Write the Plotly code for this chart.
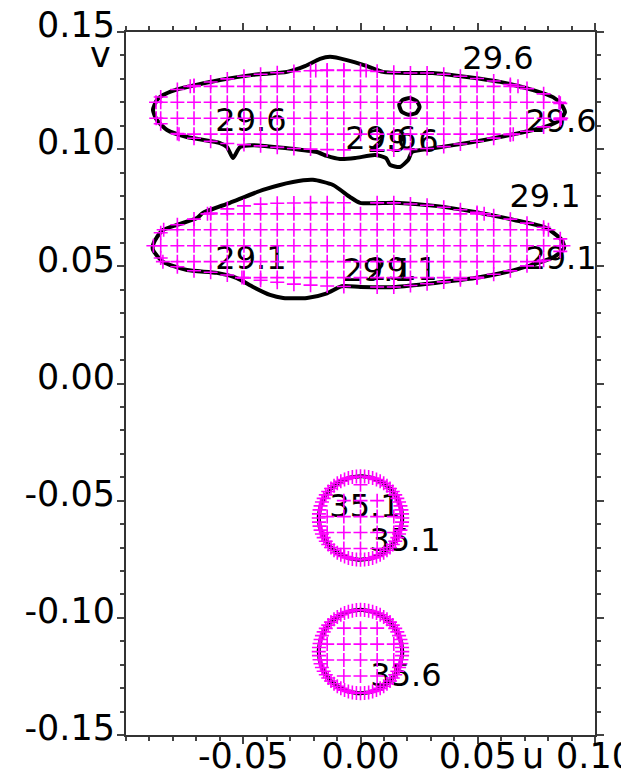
import numpy as np
import plotly.graph_objects as go

# ---------------- contour outlines (u, v) ----------------
# level 29.6, outer outline
c296_u = [-0.0885, -0.0868, -0.0842, -0.0791, -0.0740, -0.0599, -0.0458, -0.0313, -0.0237, -0.0173,
          -0.0130, -0.0058, 0.0028, 0.0096, 0.0211, 0.0309, 0.0454, 0.0595, 0.0736, 0.0821,
          0.0855, 0.0872,
          0.0851, 0.0808, 0.0736, 0.0595, 0.0454, 0.0309, 0.0220, 0.0203, 0.0168, 0.0126,
          0.0109, 0.0062, -0.0023, -0.0087, -0.0143, -0.0186, -0.0313, -0.0458, -0.0514, -0.0544,
          -0.0569, -0.0599, -0.0740, -0.0825, -0.0868, -0.0885]
c296_v = [0.1167, 0.1210, 0.1231, 0.1252, 0.1265, 0.1295, 0.1317, 0.1330, 0.1354, 0.1385,
          0.1394, 0.1380, 0.1354, 0.1330, 0.1325, 0.1325, 0.1308, 0.1287, 0.1252, 0.1222,
          0.1193, 0.1158,
          0.1124, 0.1103, 0.1082, 0.1052, 0.1026, 0.1004, 0.0988, 0.0954, 0.0924, 0.0933,
          0.0962, 0.0975, 0.0962, 0.0958, 0.0971, 0.0988, 0.1004, 0.1017, 0.1009, 0.0962,
          0.1009, 0.1026, 0.1052, 0.1082, 0.1124, 0.1167]

# level 29.6, small closed ring inside the band
o296_u = [0.0165, 0.0180, 0.0210, 0.0240, 0.0252, 0.0238, 0.0205, 0.0175, 0.0165]
o296_v = [0.1190, 0.1210, 0.1218, 0.1205, 0.1180, 0.1155, 0.1147, 0.1160, 0.1190]

# level 29.1 outline
c291_u = [-0.0885, -0.0868, -0.0842, -0.0783, -0.0697, -0.0672, -0.0557, -0.0416, -0.0288, -0.0203,
          -0.0117, -0.0045, -0.0002, 0.0151, 0.0318, 0.0488, 0.0655, 0.0791, 0.0859, 0.0868,
          0.0825, 0.0655, 0.0488, 0.0318, 0.0151, 0.0000, -0.0080, -0.0143, -0.0228, -0.0330,
          -0.0386, -0.0458, -0.0527, -0.0612, -0.0740, -0.0842, -0.0885, -0.0885]
c291_v = [0.0591, 0.0625, 0.0655, 0.0677, 0.0706, 0.0728, 0.0771, 0.0826, 0.0860, 0.0869,
          0.0847, 0.0796, 0.0771, 0.0771, 0.0758, 0.0732, 0.0698, 0.0664, 0.0612, 0.0578,
          0.0540, 0.0484, 0.0450, 0.0429, 0.0412, 0.0412, 0.0415, 0.0385, 0.0365, 0.0365,
          0.0378, 0.0412, 0.0450, 0.0472, 0.0484, 0.0519, 0.0570, 0.0591]

# sampled regions (envelopes of the '+' samples)
r296_u = [-0.0885, -0.0868, -0.0842, -0.0791, -0.0740, -0.0599, -0.0458, -0.0313, -0.0150, 0.0000,
          0.0096, 0.0211, 0.0309, 0.0454, 0.0595, 0.0736, 0.0821, 0.0855, 0.0872,
          0.0851, 0.0808, 0.0736, 0.0595, 0.0454, 0.0309, 0.0150, 0.0000, -0.0150, -0.0313,
          -0.0458, -0.0599, -0.0740, -0.0825, -0.0868]
r296_v = [0.1167, 0.1210, 0.1231, 0.1252, 0.1265, 0.1295, 0.1317, 0.1330, 0.1338, 0.1338,
          0.1330, 0.1325, 0.1325, 0.1308, 0.1287, 0.1252, 0.1222, 0.1193, 0.1158,
          0.1124, 0.1103, 0.1082, 0.1052, 0.1026, 0.1004, 0.0996, 0.0996, 0.0998, 0.1004,
          0.1017, 0.1026, 0.1052, 0.1082, 0.1124]

r291_u = [-0.0885, -0.0868, -0.0842, -0.0783, -0.0697, -0.0672, -0.0590, -0.0527, -0.0400, -0.0200,
          0.0000, 0.0151, 0.0318, 0.0488, 0.0655, 0.0791, 0.0859, 0.0868,
          0.0825, 0.0655, 0.0488, 0.0318, 0.0151, 0.0000, -0.0150, -0.0300, -0.0420, -0.0527,
          -0.0612, -0.0740, -0.0842]
r291_v = [0.0591, 0.0625, 0.0655, 0.0677, 0.0706, 0.0719, 0.0740, 0.0755, 0.0768, 0.0772,
          0.0771, 0.0771, 0.0758, 0.0732, 0.0698, 0.0664, 0.0612, 0.0578,
          0.0540, 0.0484, 0.0450, 0.0429, 0.0412, 0.0412, 0.0416, 0.0425, 0.0440, 0.0455,
          0.0472, 0.0484, 0.0519]

# circular levels
ring_level = [35.1, 35.6]
ring_u0 = [0.0000, 0.0000]
ring_v0 = [-0.0574, -0.1144]
ring_r = [0.0178, 0.0178]

# sample grid
grid_u0, grid_du = 0.0, 0.0071
grid_v0, grid_dv = -0.1044, 0.0068

# contour labels
label_text = ["29.6", "29.6", "29.6", "29.6", "29.6",
              "29.1", "29.1", "29.1", "29.1", "29.1",
              "35.1", "35.1", "35.6"]
label_u = [0.0586, -0.0467, 0.0855, 0.0087, 0.0181,
           0.0787, -0.0467, 0.0855, 0.0075, 0.0177,
           0.0019, 0.0190, 0.0194]
label_v = [0.1376, 0.1112, 0.1108, 0.1035, 0.1023,
           0.0786, 0.0523, 0.0523, 0.0472, 0.0476,
           -0.0536, -0.0681, -0.1257]

# axis ticks
x_ticks = [-0.05, 0.0, 0.05, 0.10]
x_ticktext = ["-0.05", "0.00", "0.05", "0.10"]
y_ticks = [-0.15, -0.10, -0.05, 0.0, 0.05, 0.10, 0.15]
y_ticktext = ["-0.15", "-0.10", "-0.05", "0.00", "0.05", "0.10", "0.15"]

MAGENTA = "#ff00ff"
FONT = "DejaVu Sans"


def inside(pu, pv, poly_u, poly_v):
    """Ray-casting point-in-polygon test."""
    pu = np.asarray(pu); pv = np.asarray(pv)
    xu = np.asarray(poly_u); yv = np.asarray(poly_v)
    res = np.zeros(pu.shape, dtype=bool)
    n = len(xu)
    for i in range(n):
        x1, y1 = xu[i], yv[i]
        x2, y2 = xu[(i + 1) % n], yv[(i + 1) % n]
        cond = (y1 > pv) != (y2 > pv)
        with np.errstate(divide="ignore", invalid="ignore"):
            xc = x1 + (pv - y1) * (x2 - x1) / (y2 - y1)
        res ^= cond & (pu < xc)
    return res


def edge_hits(poly_u, poly_v, gu, gv):
    """Points where the region edge crosses the sample grid lines."""
    hu, hv = [], []
    n = len(poly_u)
    for i in range(n):
        x1, y1 = poly_u[i], poly_v[i]
        x2, y2 = poly_u[(i + 1) % n], poly_v[(i + 1) % n]
        for g in gu:
            if (x1 - g) * (x2 - g) < 0:
                t = (g - x1) / (x2 - x1)
                hu.append(g); hv.append(y1 + t * (y2 - y1))
        for g in gv:
            if (y1 - g) * (y2 - g) < 0:
                t = (g - y1) / (y2 - y1)
                hu.append(x1 + t * (x2 - x1)); hv.append(g)
    return hu, hv


gu = grid_u0 + grid_du * np.arange(-15, 16)
gv = grid_v0 + grid_dv * np.arange(-7, 40)
GU, GV = np.meshgrid(gu, gv)
GU = GU.ravel(); GV = GV.ravel()

pts_u, pts_v = [], []
for pu_, pv_ in ((r296_u, r296_v), (r291_u, r291_v)):
    m = inside(GU, GV, pu_, pv_)
    pts_u += list(GU[m]); pts_v += list(GV[m])
    hu, hv = edge_hits(pu_, pv_, gu, gv)
    pts_u += hu; pts_v += hv

ring_lines = []
for u0, v0, r in zip(ring_u0, ring_v0, ring_r):
    d = np.hypot(GU - u0, GV - v0)
    m = d < r - 0.002
    pts_u += list(GU[m]); pts_v += list(GV[m])
    t = np.linspace(0, 2 * np.pi, 64, endpoint=False)
    pts_u += list(u0 + r * np.cos(t)); pts_v += list(v0 + r * np.sin(t))
    tt = np.linspace(0, 2 * np.pi, 121)
    ring_lines.append((u0 + r * np.cos(tt), v0 + r * np.sin(tt)))

fig = go.Figure()

# contour labels
fig.add_trace(go.Scatter(
    x=label_u, y=label_v, mode="text", text=label_text,
    textposition="middle center", cliponaxis=False,
    textfont=dict(family=FONT, size=32, color="black"),
    hoverinfo="skip", showlegend=False))

# contour lines
line_style = dict(color="black", width=4, shape="spline", smoothing=0.6)
for cu, cv in ((c296_u, c296_v), (o296_u, o296_v), (c291_u, c291_v)):
    fig.add_trace(go.Scatter(x=cu, y=cv, mode="lines", line=line_style,
                             hoverinfo="skip", showlegend=False))
for ru, rv in ring_lines:
    fig.add_trace(go.Scatter(x=ru, y=rv, mode="lines",
                             line=dict(color="black", width=4),
                             hoverinfo="skip", showlegend=False))

# samples
fig.add_trace(go.Scatter(
    x=pts_u, y=pts_v, mode="markers",
    marker=dict(symbol="cross-thin", size=10, color=MAGENTA,
                line=dict(color=MAGENTA, width=1.6)),
    hoverinfo="skip", showlegend=False))

axis_common = dict(showgrid=False, zeroline=False, showline=True,
                   linecolor="#333", linewidth=2, mirror="allticks",
                   ticks="outside", ticklen=7, tickwidth=2, tickcolor="#444",
                   automargin=False, ticklabeloverflow="allow",
                   tickfont=dict(family=FONT, size=35, color="black"),
                   minor=dict(ticks="outside", ticklen=4, tickwidth=1.5,
                              tickcolor="#444", dtick=0.01, showgrid=False))

fig.update_layout(
    width=621, height=771, autosize=False,
    margin=dict(l=126, r=26, t=32, b=36),
    paper_bgcolor="white", plot_bgcolor="white",
    xaxis=dict(range=[-0.10, 0.10], tickmode="array", tickvals=x_ticks,
               ticktext=x_ticktext, ticklabelstandoff=-18, **axis_common),
    yaxis=dict(range=[-0.15, 0.15], tickmode="array", tickvals=y_ticks,
               ticktext=y_ticktext, ticklabelshift=-7, ticklabelstandoff=-5,
               **axis_common),
    annotations=[
        dict(text="v", xref="paper", yref="paper", x=-0.055, y=0.967,
             xanchor="center", yanchor="middle", showarrow=False,
             font=dict(family=FONT, size=35, color="black")),
        dict(text="u", xref="paper", yref="paper", x=0.868, y=-0.030,
             xanchor="center", yanchor="middle", showarrow=False,
             font=dict(family=FONT, size=35, color="black")),
    ],
)

fig.write_html("out.html")
